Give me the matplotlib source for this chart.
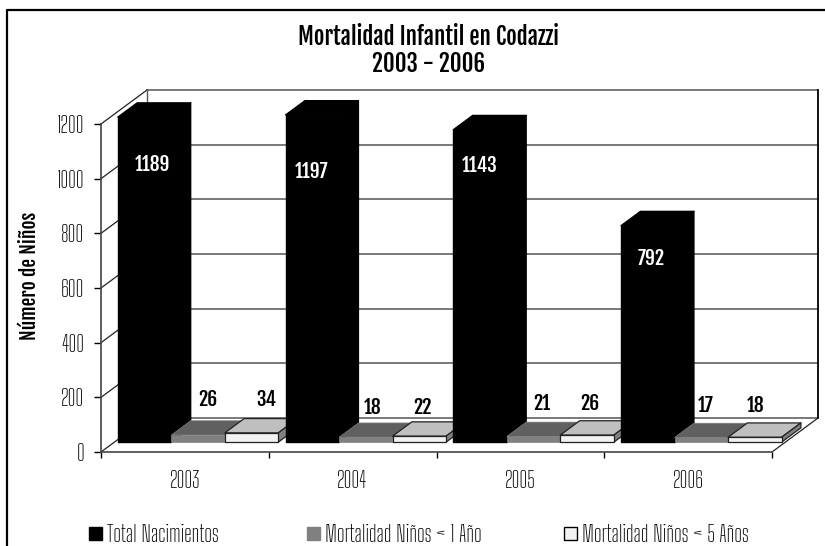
import numpy as np
import matplotlib
matplotlib.use("Agg")
import matplotlib.pyplot as plt
from matplotlib.patches import Patch

plain_font = ["Big Shoulders Text", "Liberation Sans Narrow", "Liberation Sans", "DejaVu Sans"]
bold_font = ["Fjalla One", "Liberation Sans Narrow", "Liberation Sans", "DejaVu Sans"]
plt.rcParams["font.family"] = plain_font

years = ["2003", "2004", "2005", "2006"]
total_nacimientos = [1189, 1197, 1143, 792]
mortalidad_1 = [26, 18, 21, 17]
mortalidad_5 = [34, 22, 26, 18]
y_ticks = [0, 200, 400, 600, 800, 1000, 1200]
series_names = ["Total Nacimientos", "Mortalidad Niños < 1 Año", "Mortalidad Niños < 5 Años"]

W, H = 825, 546
X0, X1, Y0, Y1 = 101, 772, 452, 124  # plano frontal en pixeles
DEPTH_X = 46 / ((X1 - X0) / 4)  # profundidad en unidades de datos
DEPTH_Y = 34 * 1200 / (Y0 - Y1)
BAR_W = 53.5 / ((X1 - X0) / 4)
GROUP_OFF = 3.5 / ((X1 - X0) / 4)
D_FRONT, D_BACK = 0.29, 0.71

fig = plt.figure(figsize=(W / 100, H / 100), dpi=100)
ax = fig.add_axes([X0 / W, 1 - Y0 / H, (X1 - X0) / W, (Y0 - Y1) / H])
ax.set_xlim(0, 4)
ax.set_ylim(0, 1200)
ax.patch.set_visible(False)


def proj(x, y, d):
    return x + d * DEPTH_X, y + d * DEPTH_Y


def draw_bar(x, w, h, front, top, side, edge, lw):
    x0, y0 = proj(x, 0, D_FRONT)
    x1, y1 = proj(x + w, h, D_FRONT)
    bx0, by0 = proj(x, h, D_BACK)
    bx1, by1 = proj(x + w, h, D_BACK)
    bx2, by2 = proj(x + w, 0, D_BACK)
    kw = dict(edgecolor=edge, linewidth=lw, clip_on=False, joinstyle="round", zorder=3)
    ax.fill([x0, x1, bx1, bx0], [y1, y1, by1, by0], facecolor=top, **kw)
    ax.fill([x1, bx1, bx2, x1], [y1, by1, by2, y0], facecolor=side, **kw)
    ax.fill([x0, x1, x1, x0], [y0, y0, y1, y1], facecolor=front, **kw)


# pared del fondo y piso
wall_color = "#555555"
for v in y_ticks:
    ax.plot([DEPTH_X, 4 + DEPTH_X], [v + DEPTH_Y, v + DEPTH_Y], color=wall_color, lw=1.1, clip_on=False, zorder=1)
    ax.plot([0, DEPTH_X], [v, v + DEPTH_Y], color="#222222", lw=0.9, clip_on=False, zorder=1)
ax.plot([DEPTH_X, DEPTH_X], [DEPTH_Y, 1200 + DEPTH_Y], color=wall_color, lw=1, clip_on=False, zorder=1)
ax.plot([4 + DEPTH_X, 4 + DEPTH_X], [DEPTH_Y, 1200 + DEPTH_Y], color="black", lw=1.3, clip_on=False, zorder=1)
ax.plot([4, 4 + DEPTH_X], [0, DEPTH_Y], color="#222222", lw=0.9, clip_on=False, zorder=1)

for i in range(len(years)):
    x = i + GROUP_OFF
    draw_bar(x, BAR_W, total_nacimientos[i], "black", "black", "black", "black", 1.0)
    draw_bar(x + BAR_W, BAR_W, mortalidad_1[i], "#808080", "#606060", "#555555", "#808080", 0.5)
    draw_bar(x + 2 * BAR_W, BAR_W, mortalidad_5[i], "#f2f2f2", "#bfbfbf", "#808080", "#222222", 0.9)

# etiquetas de datos
white_offsets = [(52, -37), (43, -47), (43.5, -26), (47, -23)]
for i, v in enumerate(total_nacimientos):
    ax.annotate(str(v), xy=(i, v), xytext=white_offsets[i],
                textcoords="offset pixels", color="white", fontsize=14,
                family=bold_font, ha="center", va="center", zorder=5, annotation_clip=False)
label_px_1 = [107, 104, 105, 102]
label_px_5 = [165, 154, 153, 151]
label_py_1 = [400, 407, 403, 406]
label_py_5 = [400, 408, 403, 406]
for i in range(len(years)):
    for v, px, py in [(mortalidad_1[i], label_px_1[i], label_py_1[i]), (mortalidad_5[i], label_px_5[i], label_py_5[i])]:
        ax.annotate(str(v), xy=(i, 0), xytext=(px, Y0 - py), textcoords="offset pixels",
                    color="black", fontsize=14, family=bold_font,
                    ha="center", va="center", zorder=5, annotation_clip=False)

# ejes
for s in ["top", "right"]:
    ax.spines[s].set_visible(False)
for s in ["left", "bottom"]:
    ax.spines[s].set_color("#444444")
    ax.spines[s].set_linewidth(1.2)
ax.set_yticks(y_ticks)
ax.set_yticklabels([str(v) for v in y_ticks], fontsize=16)
ax.set_xticks(range(5))
ax.set_xticklabels([])
ax.set_xticks(np.arange(4) + 0.5, years, minor=True, fontsize=16)
ax.tick_params(axis="x", which="major", length=4, color="black", width=1)
ax.tick_params(axis="x", which="minor", length=0, pad=13)
ax.tick_params(axis="y", length=5, color="black", width=1, pad=7)

fig.text(30 / W, 1 - 276 / H, "Número de Niños", rotation=90, fontsize=14,
         family=bold_font, ha="center", va="center")
fig.text(429 / W, 1 - 37 / H, "Mortalidad Infantil en Codazzi", fontsize=16.5,
         family=bold_font, ha="center", va="center")
fig.text(429 / W, 1 - 64 / H, "2003 - 2006", fontsize=16.5, family=bold_font,
         ha="center", va="center")

# leyenda
handles = [Patch(facecolor="black", edgecolor="black"),
           Patch(facecolor="#808080", edgecolor="#808080"),
           Patch(facecolor="#f2f2f2", edgecolor="black")]
legend_px = [89, 307, 564]
for h, name, px in zip(handles, series_names, legend_px):
    fig.legend([h], [name], frameon=False, fontsize=16, loc="center left",
               bbox_to_anchor=(px / W, 1 - 535 / H), handlelength=0.58, handleheight=0.5,
               handletextpad=0.23, borderpad=0, borderaxespad=0)

# marco exterior (recortado abajo y a la derecha)
fig.add_artist(plt.Line2D([7 / W, 7 / W, 1], [0, 1 - 10 / H, 1 - 10 / H], color="black", lw=1.6))

fig.savefig("out.png", dpi=100)
